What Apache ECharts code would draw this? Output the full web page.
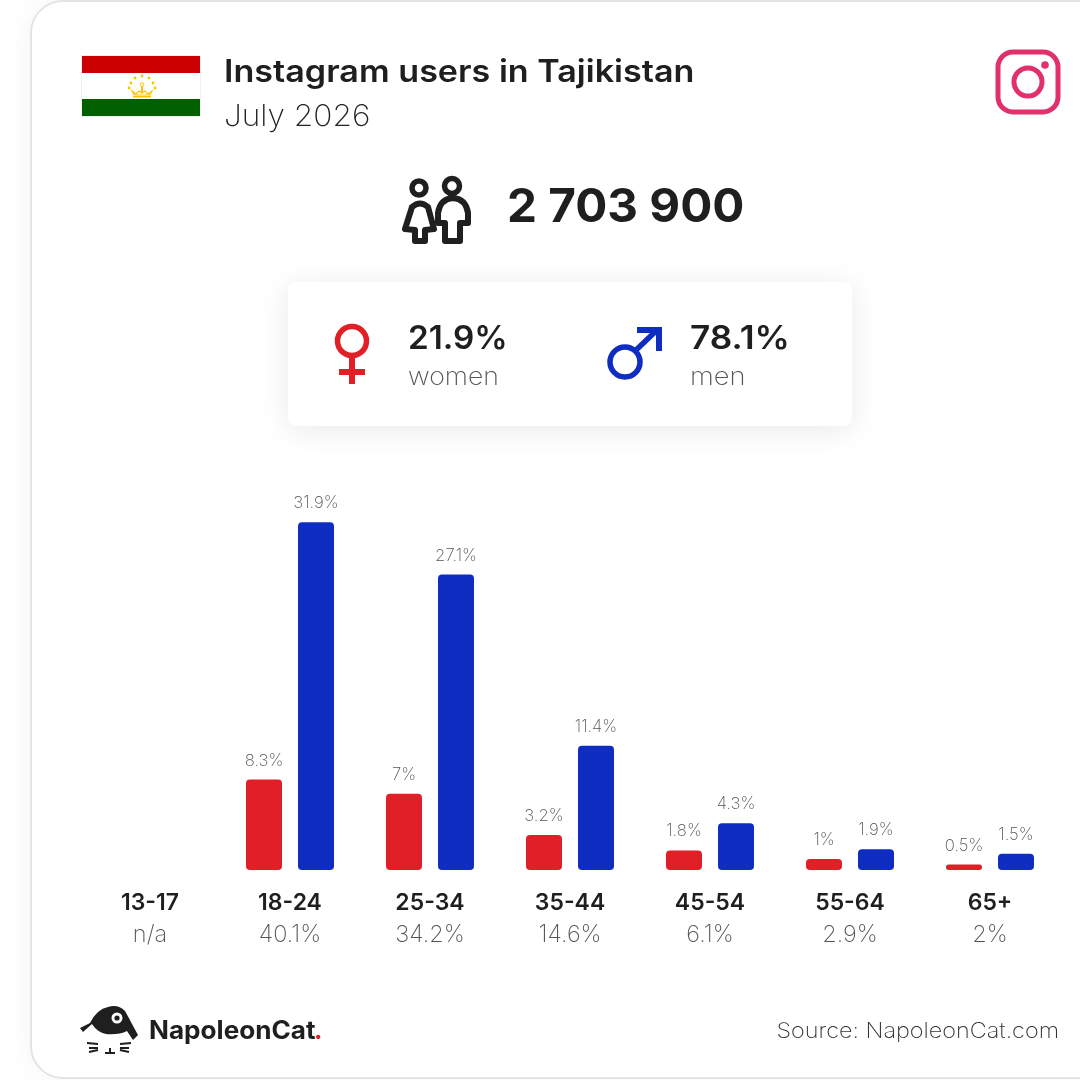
<!DOCTYPE html>
<html><head><meta charset="utf-8">
<style>html,body{margin:0;padding:0;background:#fff}#c{width:1080px;height:1080px}</style>
<script src="https://cdn.jsdelivr.net/npm/echarts@6/dist/echarts.min.js"></script>
</head><body><div id="c"></div>
<script>
const categories=['13-17','18-24','25-34','35-44','45-54','55-64','65+'];
const totals=['n/a','40.1%','34.2%','14.6%','6.1%','2.9%','2%'];
const women=[null,8.3,7,3.2,1.8,1,0.5];
const men=[null,31.9,27.1,11.4,4.3,1.9,1.5];
const FF='Inter';
const INK='#1f1f1f',RED='#e01f26',BLUE='#0f2dc0',GREY='#6f6f6f';
const chart=echarts.init(document.getElementById('c'),null,{renderer:'canvas'});
function txt(x,y,s,size,weight,color,align,sx){return {type:'text',x,y,scaleX:sx||1,silent:true,style:{text:s,fontFamily:FF,fontSize:size,fontWeight:weight,fill:color,textAlign:align||'left',textVerticalAlign:'middle'}};}
let shapeId=0;
function svg(d,style){const n='icon'+(shapeId++);echarts.graphic.registerShape(n,echarts.graphic.extendPath(d,{}));return {type:n,silent:true,style};}
const stars=[[142,76],[135,78],[149,78],[131,83],[153,83],[129,88],[155,88]].map(p=>({type:'circle',shape:{cx:p[0],cy:p[1],r:1.4},style:{fill:'#f8c300'}}));
const graphics=[
 {type:'rect',shape:{x:31,y:1,width:1200,height:1077,r:32},style:{fill:'#fff',stroke:'#e4e4e4',lineWidth:2,shadowBlur:30,shadowColor:'rgba(0,0,0,0.05)'},silent:true,z:-10},
 {type:'rect',shape:{x:81.5,y:55.5,width:119,height:61},style:{fill:'#fff',stroke:'#f1f1f1',lineWidth:1}},
 {type:'rect',shape:{x:82,y:56,width:118,height:17},style:{fill:'#cc0000'}},
 {type:'rect',shape:{x:82,y:99,width:118,height:17},style:{fill:'#006000'}},
 ...stars,
 svg('M132 91 L136 94 L139 91 L142 93 L145 91 L148 94 L152 91 L150 95 L134 95 Z',{fill:'#fff',stroke:'#f8c300',lineWidth:1.2}),
 {type:'rect',shape:{x:133,y:96,width:18,height:1.5},style:{fill:'#f8c300'}},
 {type:'rect',shape:{x:141,y:86,width:2,height:6},style:{fill:'#f8c300'}},
 {type:'circle',shape:{cx:142,cy:84.5,r:1.8},style:{fill:'#fff',stroke:'#f8c300',lineWidth:1}},
 txt(224,73,'Instagram users in Tajikistan',31,600,INK,'left',1.10),
 txt(224,117,'July 2026',30,200,'#222','left',1.055),
 {type:'rect',shape:{x:998,y:52,width:60,height:60,r:15},style:{fill:'none',stroke:'#e1306c',lineWidth:5}},
 {type:'circle',shape:{cx:1028,cy:82,r:14},style:{fill:'none',stroke:'#e1306c',lineWidth:5}},
 {type:'circle',shape:{cx:1045,cy:65,r:3.8},style:{fill:'#e1306c'}},
 {type:'circle',shape:{cx:419,cy:188,r:7},style:{fill:'none',stroke:INK,lineWidth:5.5}},
 {type:'circle',shape:{cx:452,cy:186,r:7.5},style:{fill:'none',stroke:INK,lineWidth:5.5}},
 svg('M412 207 Q420 200 428 207 L434 229 L425 230 L425 241 L415 241 L415 230 L405 229 Z',{fill:'none',stroke:INK,lineWidth:6,lineJoin:'round'}),
 svg('M438 213 Q440 199 453 198 Q466 199 468 213 L468 223 L460 223 L460 241 L445 241 L445 223 L438 223 Z',{fill:'none',stroke:INK,lineWidth:6,lineJoin:'round'}),
 txt(507,208,'2 703 900',47,700,INK,'left',1.013),
 {type:'rect',shape:{x:288,y:282,width:564,height:144,r:8},style:{fill:'#fff',shadowBlur:30,shadowColor:'rgba(0,0,0,0.09)',shadowOffsetY:4},silent:true},
 {type:'circle',shape:{cx:352,cy:341,r:14.5},style:{fill:'none',stroke:RED,lineWidth:5.5}},
 {type:'rect',shape:{x:349,y:358,width:6,height:26},style:{fill:RED}},
 {type:'rect',shape:{x:339,y:369,width:26,height:6},style:{fill:RED}},
 txt(408,339,'21.9%',32,600,INK,'left',1.04),
 txt(408,378,'women',24,200,'#555','left',1.11),
 {type:'circle',shape:{cx:625,cy:362,r:15},style:{fill:'none',stroke:BLUE,lineWidth:5.5}},
 svg('M635 351 L656 331',{fill:'none',stroke:BLUE,lineWidth:5.5}),
 svg('M637 327 L662 327 L662 351 L656 351 L656 333 L637 333 Z',{fill:BLUE}),
 txt(690,339,'78.1%',32,600,INK,'left',1.10),
 txt(690,378,'men',24,200,'#555','left',1.14),
 svg('M80 1028 L90 1023 Q97 1009 108 1007 Q118 1004 125 1011 Q129 1018 132 1024 L138 1035 L133 1040 L127 1031 Q119 1035 106 1034 Q97 1032 92 1024 L83 1032 Z',{fill:INK}),
 {type:'circle',shape:{cx:117,cy:1018,r:5.5},style:{fill:'#fff'}},
 {type:'circle',shape:{cx:117,cy:1018,r:2.6},style:{fill:INK}},
 svg('M87 1043 L98 1044 M89 1048 L98 1048 M89 1052 L98 1050 M131 1043 L120 1044 M129 1048 L120 1048 M129 1052 L120 1050 M105 1053 L115 1053 M110 1048 L110 1053',{fill:'none',stroke:INK,lineWidth:2}),
 txt(149,1031,'NapoleonCat',25,700,INK,'left',1.045),
 {type:'text',x:314,y:1031,silent:true,style:{text:'.',fontFamily:FF,fontSize:25,fontWeight:700,fill:RED,textVerticalAlign:'middle'}},
 txt(1059,1032,'Source: NapoleonCat.com',21,200,'#333','right',1.115)
];
function bar(name,data,color){return {name,type:'bar',data,barWidth:36,barGap:'44.44%',itemStyle:{color,borderRadius:[4,4,4,4]},
 label:{show:true,position:'top',distance:10.5,formatter:p=>p.value+'%',fontFamily:FF,fontSize:16.7,fontWeight:200,color:'#555'},silent:true};}
chart.setOption({
 animation:false,
 grid:{left:80,width:980,top:470,height:400,containLabel:false},
 graphic:{elements:graphics},
 xAxis:{type:'category',data:categories,axisLine:{show:false},axisTick:{show:false},
  axisLabel:{interval:0,margin:17,formatter:(v,i)=>'{a|'+v+'}\n{b|'+totals[i]+'}',
   rich:{a:{fontFamily:FF,fontSize:23,fontWeight:600,color:INK,lineHeight:32,align:'center'},b:{fontFamily:FF,fontSize:23.5,fontWeight:200,color:'#555',lineHeight:32,align:'center'}}}},
 yAxis:{type:'value',min:0,max:400/10.9,show:false},
 series:[bar('women',women,RED),bar('men',men,BLUE)]
});
</script></body></html>
